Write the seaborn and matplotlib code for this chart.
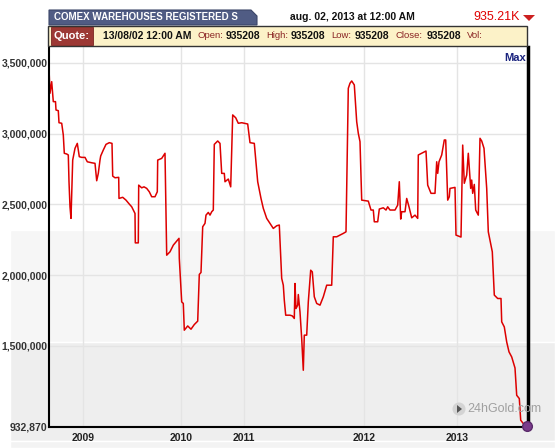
import numpy as np
import pandas as pd
import matplotlib
matplotlib.use("Agg")
import matplotlib.pyplot as plt
from matplotlib.patches import Rectangle, Polygon, Ellipse
from matplotlib.ticker import FixedLocator, FixedFormatter
import seaborn as sns

# COMEX warehouses registered gold stocks (oz), sampled along the chart's session axis
session = [
    0, 1, 2.7, 4.3, 6.5, 7, 9.3, 10, 12.7, 14.3, 15.3, 17.7, 19.3, 20, 21, 22,
    23.7, 26, 28.3, 30.3, 32.7, 36, 38.3, 42.7, 46, 47.7, 49.3, 51, 51.7, 54.3,
    57, 60.3, 63, 63.7, 66, 69.7, 70, 73.7, 77, 80.3, 82.7, 86, 86.3, 89.3, 89.7,
    92.7, 95, 97.7, 100.3, 102.7, 106, 108.3, 108.7, 112.7, 116, 117.7, 121,
    124.3, 127.7, 130, 130.3, 132.7, 134.3, 135.3, 138.7, 142, 145.3, 148.7,
    150.3, 152, 153.7, 156, 157, 159.3, 161, 162.7, 164.3, 165.3, 168.7, 171,
    172.7, 175.3, 176, 179.3, 181.7, 183.7, 186.7, 189.3, 192.7, 198.7, 201,
    205.3, 208.7, 212, 214.3, 217.7, 221, 224.3, 227.7, 230.3, 232.7, 234.3,
    235.3, 236.7, 241, 243.3, 245.3, 246, 247, 248.7, 249.3, 251, 252.7, 254.3,
    255.3, 257.7, 259.3, 261.7, 263.3, 265.3, 267.7, 271, 274.3, 277.7, 282.7,
    284.3, 287.7, 291, 294.3, 297, 299.3, 301, 302.7, 305.3, 307.7, 309.3, 311,
    312.7, 319.3, 322, 324.3, 325.3, 328.7, 330.3, 334.3, 337, 338.7, 341, 346,
    348.7, 350.3, 351.7, 352.7, 356, 357.7, 360, 362.7, 366, 368.7, 369.3,
    372.7, 377, 378.7, 380, 382, 386, 387.7, 388.7, 390, 392.7, 395.3, 396.7,
    398.7, 400.3, 401, 406, 407, 412, 413.7, 415.3, 417.7, 419.3, 421.7, 422.7,
    423.7, 425.3, 426.7, 429.3, 431, 432.7, 435, 436, 437.7, 439.3, 442, 443.3,
    445.3, 448.7, 452, 452.7, 455.3, 457.7, 460, 462.7, 466, 467.7, 470.3,
    471.7, 474.3, 476.7, 478,
]
registered_k = [
    3457, 3285, 3367, 3226, 3226, 3167, 3162, 3077, 3073, 2990, 2861, 2856, 2849, 2660, 2483, 2401,
    2813, 2896, 2931, 2837, 2832, 2832, 2801, 2794, 2790, 2667, 2719, 2813, 2842, 2884,
    2924, 2936, 2931, 2700, 2688, 2691, 2542, 2550, 2530, 2502, 2483, 2436, 2228, 2228, 2636,
    2617, 2624, 2613, 2589, 2554, 2554, 2589, 2813, 2825, 2861, 2141, 2165,
    2212, 2240, 2260, 2118, 1811, 1800, 1611, 1641, 1618, 1651, 1675,
    2005, 2019, 2342, 2366, 2424, 2443, 2424, 2448, 2460, 2924, 2948, 2931,
    2719, 2719, 2660, 2679, 2624, 3132, 3112, 3073, 3077, 3068, 2936,
    2931, 2660, 2542, 2472, 2401, 2366, 2330, 2349, 2354, 1977, 1929,
    1823, 1717, 1717, 1712, 1694, 1941, 1764, 1788, 1863, 1740, 1552, 1328,
    1576, 1576, 1811, 2035, 2023, 1847, 1800, 1788, 1847, 1929, 1929,
    2271, 2271, 2283, 2295, 2306, 3320, 3356, 3372, 3344, 3084, 3002, 2943,
    2530, 2523, 2460, 2460, 2377, 2377, 2467, 2476, 2460, 2483, 2460, 2460,
    2495, 2660, 2396, 2448, 2448, 2542, 2483, 2405, 2424, 2401, 2849,
    2861, 2877, 2636, 2613, 2578, 2578, 2801, 2719, 2801, 2849, 2955, 2955,
    2530, 2554, 2613, 2620, 2283, 2269, 2919, 2649, 2707, 2861, 2613, 2672,
    2578, 2641, 2460, 2424, 2967, 2948, 2896, 2790, 2613, 2306, 2212, 2165,
    1859, 1835, 1835, 1670, 1634, 1528, 1458, 1422, 1344, 1151, 1128,
    975, 951, 934, 935.208,
]
year_pos = [33.7, 132.3, 194.7, 315.3, 407.7]
year_labels = ["2009", "2010", "2011", "2012", "2013"]
y_ticks = [932870, 1500000, 2000000, 2500000, 3000000, 3500000]
y_labels = ["932,870", "1,500,000", "2,000,000", "2,500,000", "3,000,000", "3,500,000"]

df = pd.DataFrame({"session": session, "registered": np.array(registered_k) * 1000})

W, H = 555, 448
sns.set_style("white")
plt.rcParams["font.family"] = ["Liberation Sans", "DejaVu Sans"]

fig = plt.figure(figsize=(W / 100, H / 100), dpi=100)
fig.patch.set_facecolor("white")


def fx(x):
    return x / W


def fy(y):
    return 1 - y / H


def band(x0, y0, x1, y1, color, z=0, **kw):
    fig.add_artist(Rectangle((fx(x0), fy(y1)), (x1 - x0) / W, (y1 - y0) / H,
                             transform=fig.transFigure, facecolor=color, zorder=z, **kw))


# background shading bands
band(10, 230, W, 342, "#f6f6f6")
band(10, 342, W, 441, "#eeeeee")
band(10, 441, W, H, "#f3f3f3")

ax = fig.add_axes([fx(49), fy(427), (528 - 49) / W, (427 - 47) / H])
ax.set_zorder(2)
ax.set_facecolor("none")

sns.lineplot(data=df, x="session", y="registered", ax=ax, color="#dd0000",
             linewidth=1.1, estimator=None, sort=False)
last = df.iloc[-1]
ax.plot(last["session"], last["registered"], "o", color="#7a3b8c", markersize=7,
        markeredgecolor="#5a2a6a", clip_on=False, zorder=5)

ax.set_xlim(0, 479)
ax.set_ylim(927000, 3612000)
ax.xaxis.set_major_locator(FixedLocator(year_pos))
ax.xaxis.set_major_formatter(FixedFormatter(year_labels))
ax.yaxis.set_major_locator(FixedLocator(y_ticks))
ax.yaxis.set_major_formatter(FixedFormatter(y_labels))
ax.grid(True, color="#e4e4e4", linewidth=1)
ax.set_axisbelow(True)
ax.tick_params(length=0)
ax.tick_params(axis="x", pad=4, labelsize=7.5, labelcolor="#222222")
ax.tick_params(axis="y", pad=1, labelsize=7.5, labelcolor="#333333")
for lab in ax.get_xticklabels() + ax.get_yticklabels():
    lab.set_fontweight("bold")
ax.set_xlabel("")
ax.set_ylabel("")
ax.spines["top"].set_visible(False)
ax.spines["left"].set_color("black")
ax.spines["left"].set_linewidth(1.5)
ax.spines["bottom"].set_color("black")
ax.spines["bottom"].set_linewidth(1.5)
ax.spines["right"].set_color("black")
ax.spines["right"].set_linewidth(2.5)

ax.text(0.995, 0.985, "Max", transform=ax.transAxes, ha="right", va="top",
        fontsize=8, fontweight="bold", color="#1a237e")

# header tab
fig.add_artist(Polygon([(fx(49), fy(25)), (fx(49), fy(10)), (fx(251), fy(10)),
                        (fx(257), fy(16)), (fx(257), fy(25))], closed=True,
                       transform=fig.transFigure, facecolor="#505c84",
                       edgecolor="#3c4668", linewidth=0.8, zorder=3))
fig.text(fx(54), fy(17.5), "COMEX WAREHOUSES REGISTERED S", color="white",
         fontsize=7, fontweight="bold", va="center", ha="left", zorder=4)
fig.text(fx(290), fy(17), "aug. 02, 2013 at 12:00 AM", color="#111111",
         fontsize=7.5, fontweight="bold", va="center", ha="left")
fig.text(fx(520), fy(17), "935.21K", color="#e00000", fontsize=9,
         va="center", ha="right")
fig.add_artist(Polygon([(fx(523), fy(15)), (fx(535), fy(15)), (fx(529), fy(21))],
                       closed=True, transform=fig.transFigure,
                       facecolor="#cc2020", edgecolor="none", zorder=3))

# quote bar
band(48, 26, 527, 46.5, "#fcf2c8", z=3, edgecolor="#333333", linewidth=1)
band(50.5, 27.5, 92.5, 45, "#9c3834", z=4, edgecolor="#7a2622", linewidth=0.6)
fig.text(fx(71.5), fy(36), "Quote:", color="white", fontsize=8,
         fontweight="bold", ha="center", va="center", zorder=5)
quote_items = [
    ("13/08/02 12:00 AM", 103, True), ("Open:", 197, False), ("935208", 226, True),
    ("High:", 266, False), ("935208", 291, True), ("Low:", 331, False),
    ("935208", 355, True), ("Close:", 396, False), ("935208", 427, True),
    ("Vol:", 467, False),
]
for txt, xpos, bold in quote_items:
    fig.text(fx(xpos), fy(36), txt, fontsize=7.5 if bold else 6.8,
             ha="left", va="center",
             fontweight="bold" if bold else "normal",
             color="#111111" if bold else "#8a2424", zorder=5)

# watermark
fig.add_artist(Ellipse((fx(459), fy(409)), 13 / W, 13 / H, transform=fig.transFigure,
                       facecolor="#d4d4d4", edgecolor="none", zorder=3))
fig.add_artist(Polygon([(fx(457), fy(405)), (fx(457), fy(413)), (fx(462), fy(409))],
                       closed=True, transform=fig.transFigure,
                       facecolor="#555555", edgecolor="none", zorder=3))
fig.text(fx(467), fy(409), "24hGold.com", color="#a0a0a0", fontsize=9,
         ha="left", va="center", zorder=3)

fig.savefig("out.png", dpi=100)
